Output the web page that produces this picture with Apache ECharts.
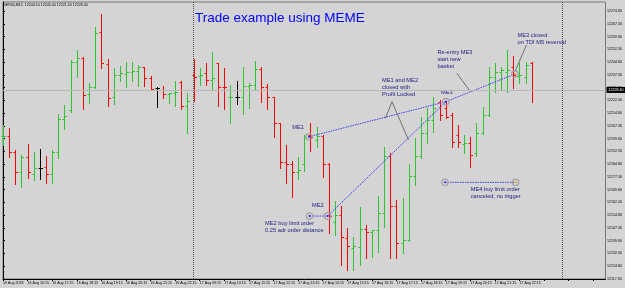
<!DOCTYPE html>
<html><head><meta charset="utf-8">
<script src="https://cdn.jsdelivr.net/npm/echarts@6/dist/echarts.min.js"></script>
<style>html,body{margin:0;padding:0;background:#d4d4d4;}#c{width:625px;height:288px;}</style>
</head><body><div id="c"></div>
<script>
const symbolName = 'GER30,M15';
const timeLabels = ['16 Aug 2018','16 Aug 16:15','16 Aug 17:15','16 Aug 18:15','16 Aug 19:15','16 Aug 20:15','16 Aug 21:15','16 Aug 22:15',
  '17 Aug 09:15','17 Aug 10:15','17 Aug 11:15','17 Aug 12:15','17 Aug 13:15','17 Aug 14:15','17 Aug 15:15','17 Aug 16:15',
  '17 Aug 17:15','17 Aug 18:15','17 Aug 19:15','17 Aug 20:15','17 Aug 21:15','17 Aug 22:15'];
const open = [12201.4,12201.5,12191.8,12180.0,12189.2,12179.0,12182.4,12183.3,12179.0,12191.9,
12211.5,12216.6,12244.7,12247.0,12226.0,12230.3,12262.3,12243.5,12224.1,12237.2,
12237.8,12239.1,12239.6,12241.7,12235.3,12229.4,12228.4,12226.0,12226.6,12233.3,
12219.0,12237.2,12236.6,12238.2,12234.3,12244.1,12230.3,12224.1,12224.5,12224.5,
12230.7,12231.3,12240.7,12230.3,12224.1,12208.8,12186.2,12184.9,12180.4,12184.9,
12201.9,12199.0,12201.4,12184.9,12150.8,12154.9,12141.4,12135.5,12136.1,12146.7,
12144.9,12145.9,12156.3,12189.6,12160.2,12138.5,12140.2,12177.8,12189.6,12202.9,
12210.8,12221.5,12217.8,12213.7,12201.9,12196.7,12197.1,12191.4,12202.9,12213.7,
12236.2,12239.1,12239.0,12242.1,12236.6,12236.2,12244.1];
const high = [12207.8,12206.2,12193.1,12190.2,12196.7,12191.9,12193.9,12189.8,12193.1,12214.3,
12219.8,12246.0,12251.9,12248.0,12232.3,12265.6,12273.1,12246.4,12241.5,12242.5,
12245.0,12245.0,12243.1,12242.1,12236.6,12230.3,12230.9,12226.9,12233.7,12233.7,
12226.5,12246.4,12241.5,12244.1,12250.5,12244.4,12241.1,12231.3,12233.7,12241.7,
12232.3,12245.6,12242.1,12231.9,12224.5,12209.0,12196.1,12186.5,12189.2,12201.9,
12208.8,12206.8,12201.9,12185.3,12163.1,12160.2,12147.3,12142.2,12159.8,12149.0,
12146.1,12166.1,12195.1,12191.2,12163.7,12164.9,12184.9,12200.0,12212.7,12217.6,
12224.5,12222.5,12221.5,12214.7,12207.8,12201.9,12200.9,12208.8,12218.6,12242.1,
12244.1,12242.1,12251.9,12248.4,12244.1,12245.0,12245.0];
const low = [12196.1,12189.2,12173.0,12171.6,12176.8,12175.5,12176.1,12173.6,12173.6,12188.2,
12205.5,12215.3,12235.9,12217.0,12220.6,12229.8,12241.1,12219.0,12220.2,12233.7,
12230.3,12233.7,12230.9,12230.9,12228.4,12218.2,12223.9,12220.9,12219.2,12217.0,
12202.9,12221.9,12231.3,12231.3,12228.8,12219.0,12217.2,12208.8,12220.2,12214.1,
12217.6,12229.0,12221.2,12217.0,12200.9,12182.4,12173.6,12165.7,12175.9,12181.0,
12192.5,12195.1,12177.4,12144.5,12143.2,12125.5,12122.6,12122.6,12125.5,12129.6,
12130.4,12133.3,12148.0,12129.5,12129.6,12132.6,12139.6,12172.6,12188.4,12197.1,
12203.9,12210.8,12211.8,12195.1,12195.1,12191.2,12183.3,12189.8,12202.3,12213.2,
12227.4,12228.4,12227.4,12229.4,12232.3,12232.3,12221.5];
const close = [12201.6,12191.8,12180.0,12189.2,12180.0,12182.4,12182.4,12179.0,12191.9,12211.5,
12213.1,12244.7,12247.0,12225.3,12230.0,12261.7,12244.1,12223.5,12237.2,12238.2,
12239.1,12239.6,12242.1,12235.3,12228.8,12229.4,12226.0,12226.6,12227.4,12219.0,
12221.9,12236.0,12237.2,12234.3,12235.4,12230.3,12230.0,12224.5,12224.5,12230.7,
12231.3,12240.7,12230.3,12224.5,12208.8,12186.2,12184.9,12180.4,12181.4,12200.9,
12200.9,12201.4,12184.9,12154.3,12154.9,12141.8,12136.7,12136.7,12146.7,12144.9,
12145.9,12156.3,12189.6,12160.2,12138.5,12140.2,12177.8,12189.6,12202.9,12210.8,
12217.6,12213.7,12212.7,12198.0,12198.0,12197.1,12190.2,12202.9,12213.7,12236.2,
12239.1,12240.1,12240.1,12237.2,12237.2,12243.1,12228.4];

const priceMin = 12117.3, priceMax = 12280.1, priceStep = 7.5;
const barMax = 98, labelEvery = 4;
const daySeparator = 31, shiftLine = 91;

// trade annotation points [bar index, price]
const me1 = [49.76, 12200.9];
const me2Start = [49.87, 12154.3];
const me2Entry = [52.8, 12154.3];
const me3Entry = [72.03, 12221.5];
const me3Close = [83.26, 12237.8];
const me4Start = [71.9, 12174.1];
const me4End = [83.37, 12174.1];
const dottedSegs = [[me1, me3Entry],[me2Entry, me3Entry],[me3Entry, me3Close],[me2Start, me2Entry],[me4Start, me4End]];
const pointerSegs = [[[63.27,12221.5],[62.19,12211.8]],[[63.27,12221.5],[65.96,12199.0]],
  [[73.81,12238.2],[75.96,12227.8]],[[85.15,12254.8],[83.26,12239.2]]];
const circlePts = [me1, me2Start, me2Entry, me3Entry, me3Close, me4Start, me4End];
const circleDot = ['#2020ff','#2020ff','#2020ff','#2020ff','#ff8c00','#2020ff','#ff9900'];
const noteTexts = ['ME1','ME2','ME3','ME1 and ME2\nclosed with\nProfit Locked','Re-entry ME3\nstart new\nbasket',
  'ME3 closed\non TDI M5 reversal','ME4 buy limit order\ncanceled, no trigger','ME2 buy limit order\n0.25 adr order distance'];
const notePos = [[48.0,12206.6],[51.2,12160.8],[72.2,12227.2],[61.65,12235.85],[70.66,12252.5],[83.7,12262.7],[76.08,12172.1],[42.63,12152.0]];
const noteCentered = [true,true,true,false,false,false,false,false];

const GREEN = '#2fc42f', RED = '#ff0000', FONT = "'Liberation Sans', Arial, sans-serif";
const last = open.length - 1;
const bid = close[last];

const ohlc = open.map((o, i) => [i, o, high[i], low[i], close[i]]);

const chart = echarts.init(document.getElementById('c'), null, {renderer: 'canvas', width: 625, height: 288});
chart.setOption({
  animation: false,
  backgroundColor: '#d4d4d4',
  title: [
    {text: symbolName + '  ' + [open[last], high[last], low[last], close[last]].map(v => v.toFixed(2)).join(' '),
     left: 3, top: 3, padding: 0, textStyle: {fontSize: 3.6, color: '#000', fontWeight: 'normal', fontFamily: FONT}},
    {text: 'Trade example using MEME', left: 195, top: 11, padding: 0,
     textStyle: {fontSize: 13.5, color: '#0000ff', fontWeight: 'normal', fontFamily: FONT}}
  ],
  grid: {left: 1.3, right: 19, top: 2, bottom: 9, show: true, borderColor: '#777', borderWidth: 1, backgroundColor: '#d4d4d4'},
  xAxis: {type: 'value', min: 0, max: barMax, interval: labelEvery,
    axisLine: {show: true, onZero: false, lineStyle: {color: '#000'}},
    axisTick: {show: true, length: 2, lineStyle: {color: '#000'}},
    splitLine: {show: false},
    axisLabel: {show: true, align: 'left', margin: 2, fontSize: 3.6, color: '#000', fontFamily: FONT, showMaxLabel: false,
      formatter: v => timeLabels[Math.round(v / labelEvery)] || ''}},
  yAxis: {type: 'value', position: 'right', min: priceMin, max: priceMax, interval: priceStep,
    axisLine: {show: true, lineStyle: {color: '#000'}},
    axisTick: {show: true, length: 2, lineStyle: {color: '#000'}},
    splitLine: {show: false},
    axisLabel: {show: true, margin: 1.5, fontSize: 3.6, color: '#000', fontFamily: FONT, showMaxLabel: false,
      formatter: v => v.toFixed(2)}},
  series: [
    {type: 'line', data: [], symbol: 'none', silent: true,
     markLine: {symbol: ['none','none'], silent: true, animation: false,
       data: [
         {yAxis: bid, lineStyle: {color: '#b8b8b8', width: 1, type: 'solid'},
          label: {show: true, position: 'end', distance: 1, formatter: bid.toFixed(2), color: '#fff', backgroundColor: '#000',
                  fontSize: 3.6, fontFamily: FONT, padding: [1, 2, 1, 2]}},
         {xAxis: daySeparator, lineStyle: {color: '#505050', width: 1, type: [1, 1]}, label: {show: false}},
         {xAxis: shiftLine, lineStyle: {color: '#505050', width: 1, type: [1, 1]}, label: {show: false}}
       ]}},
    {type: 'custom', name: 'bars', data: ohlc, encode: {x: 0, y: [1, 2, 3, 4]},
     renderItem: (params, api) => {
       const i = api.value(0), o = api.value(1), h = api.value(2), l = api.value(3), c = api.value(4);
       const pH = api.coord([i, h]), pL = api.coord([i, l]), pO = api.coord([i, o]), pC = api.coord([i, c]);
       const col = c > o ? GREEN : (c < o ? RED : '#000');
       const x = Math.round(pH[0]) + 0.5;
       const yO = Math.round(pO[1]) + 0.5, yC = Math.round(pC[1]) + 0.5;
       const st = {stroke: col, lineWidth: 1};
       return {type: 'group', children: [
         {type: 'line', shape: {x1: x, y1: Math.round(pH[1]), x2: x, y2: Math.round(pL[1]) + 1}, style: st},
         {type: 'line', shape: {x1: x - 2, y1: yO, x2: x, y2: yO}, style: st},
         {type: 'line', shape: {x1: x, y1: yC, x2: x + 2.5, y2: yC}, style: st}
       ]};
     }},
    {type: 'custom', name: 'dotted', data: dottedSegs.map((s, k) => [s[0][0], s[0][1], k]), encode: {x: 0, y: 1},
     renderItem: (params, api) => {
       const s = dottedSegs[api.value(2)];
       const a = api.coord(s[0]), b = api.coord(s[1]);
       return {type: 'line', shape: {x1: a[0], y1: a[1], x2: b[0], y2: b[1]},
         style: {stroke: '#3c3cf0', lineWidth: 1, lineDash: [1.5, 1]}};
     }},
    {type: 'custom', name: 'pointers', data: pointerSegs.map((s, k) => [s[0][0], s[0][1], k]), encode: {x: 0, y: 1},
     renderItem: (params, api) => {
       const s = pointerSegs[api.value(2)];
       const a = api.coord(s[0]), b = api.coord(s[1]);
       return {type: 'line', shape: {x1: a[0], y1: a[1], x2: b[0], y2: b[1]}, style: {stroke: '#555', lineWidth: 0.8}};
     }},
    {type: 'custom', name: 'circles', data: circlePts.map((p, k) => [p[0], p[1], k]), encode: {x: 0, y: 1},
     renderItem: (params, api) => {
       const p = api.coord([api.value(0), api.value(1)]);
       return {type: 'group', children: [
         {type: 'circle', shape: {cx: p[0], cy: p[1], r: 3.2}, style: {fill: 'rgba(0,0,0,0)', stroke: '#a4a4a4', lineWidth: 1.3}},
         {type: 'circle', shape: {cx: p[0], cy: p[1], r: 1}, style: {fill: circleDot[api.value(2)]}}
       ]};
     }},
    {type: 'custom', name: 'notes', data: notePos.map((p, k) => [p[0], p[1], k]), encode: {x: 0, y: 1},
     renderItem: (params, api) => {
       const k = api.value(2);
       const p = api.coord([api.value(0), api.value(1)]);
       return {type: 'text', x: p[0], y: p[1], style: {text: noteTexts[k], fill: '#1c1c80', fontSize: 5.7, fontFamily: FONT,
         lineHeight: 7, align: noteCentered[k] ? 'center' : 'left', verticalAlign: noteCentered[k] ? 'middle' : 'top'}};
     }}
  ]
});
</script></body></html>
